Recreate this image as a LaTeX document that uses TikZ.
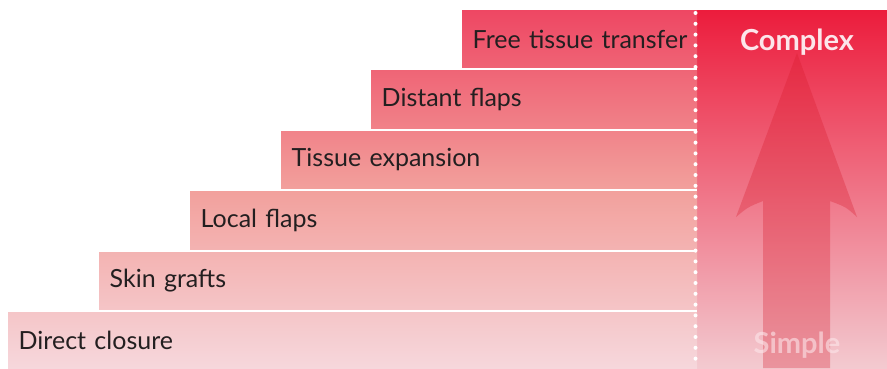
\documentclass[tikz,border=0pt]{standalone}
\usepackage{fontspec}
\setmainfont{Lato}
\usepackage{xcolor}
\definecolor{stepTop}{HTML}{EE4763}
\definecolor{stepMid}{HTML}{F2A09C}
\definecolor{stepBot}{HTML}{F6D7DC}
\definecolor{panelTop}{HTML}{EC1C3C}
\definecolor{panelMid}{HTML}{F18882}
\definecolor{panelBot}{HTML}{F3CAD0}
\definecolor{arrowRed}{HTML}{D7182A}
\definecolor{labelText}{HTML}{231F20}
\definecolor{panelText}{HTML}{FCE6EA}
\usetikzlibrary{positioning}
\tikzset{
  stepbox/.style={anchor=north west, minimum height=57.5pt, inner sep=0pt,
    font=\fontsize{25}{28}\selectfont, text=labelText, align=left},
  paneltext/.style={font=\fontsize{29}{32}\selectfont\bfseries, text=panelText}
}
\begin{document}
\begin{tikzpicture}[x=1pt, y=-1pt]
  \useasboundingbox (0,0) rectangle (887,368);
  \fill[white] (0,0) rectangle (887,368);

  % Right panel
  \shade[top color=panelTop, middle color=panelMid, bottom color=panelBot] (697,10) rectangle (887,368);
  \fill[arrowRed, opacity=0.3] (797,53) -- (857,217) .. controls (846,207) .. (830,201)
    -- (830,368) -- (763,368) -- (763,201) .. controls (748,207) .. (736,217) -- cycle;
  \node[paneltext] (complex) at (797,42) {Complex};
  \node[paneltext, opacity=0.6] (simple) at (797,345) {Simple};

  % Steps
  \node[stepbox, minimum width=235pt, text width=224pt, top color=stepTop, bottom color=stepTop!68!stepMid] (free) at (462,10) {\hspace*{5pt}\raisebox{-2pt}{Free tissue transfer}};
  \node[stepbox, minimum width=326pt, text width=315pt, top color=stepTop!66!stepMid, bottom color=stepTop!34!stepMid] (distant) at (371,70.5) {\hspace*{5pt}\raisebox{-2pt}{Distant flaps}};
  \node[stepbox, minimum width=416pt, text width=405pt, top color=stepTop!32!stepMid, bottom color=stepMid] (expansion) at (281,131) {\hspace*{5pt}\raisebox{-2pt}{Tissue expansion}};
  \node[stepbox, minimum width=507pt, text width=496pt, top color=stepMid!99!stepBot, bottom color=stepMid!66!stepBot] (local) at (190,191.5) {\hspace*{5pt}\raisebox{-2pt}{Local flaps}};
  \node[stepbox, minimum width=598pt, text width=587pt, top color=stepMid!65!stepBot, bottom color=stepMid!33!stepBot] (grafts) at (99,252) {\hspace*{5pt}\raisebox{-2pt}{Skin grafts}};
  \node[stepbox, minimum width=689pt, minimum height=55.5pt, text width=678pt, top color=stepMid!31!stepBot, bottom color=stepBot] (closure) at (8,312.5) {\hspace*{5pt}\raisebox{-2pt}{Direct closure}};

  % Dotted divider
  \draw[white, line width=4pt, line cap=round, dash pattern=on 0pt off 10.8pt] (695.5,13) -- (695.5,368);
\end{tikzpicture}
\end{document}
